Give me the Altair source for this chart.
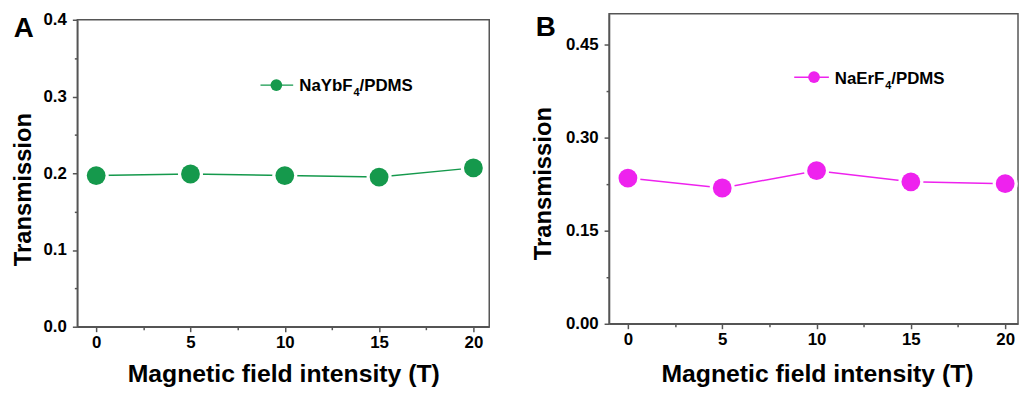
import altair as alt
import pandas as pd

# ---- data ----
field_T = [0, 5, 10, 15, 20]
trans_yb = [0.197, 0.199, 0.197, 0.195, 0.207]
trans_er = [0.235, 0.219, 0.247, 0.229, 0.226]

legend_yb = ["NaYbF", "4", "/PDMS"]
legend_er = ["NaErF", "4", "/PDMS"]
panel_letters = ["A", "B"]

x_ticks = [0, 2.5, 5, 7.5, 10, 12.5, 15, 17.5, 20]
y_ticks_a = [0, 0.05, 0.1, 0.15, 0.2, 0.25, 0.3, 0.35, 0.4]
y_ticks_b = [0, 0.075, 0.15, 0.225, 0.3, 0.375, 0.45]

GREEN = "#15994c"
MAGENTA = "#ee22ee"
AXC = "#555555"
FONT = "Liberation Sans"

df_a = pd.DataFrame({"field": field_T, "trans": trans_yb})
df_b = pd.DataFrame({"field": field_T, "trans": trans_er})


def x_axis(title_pad, title_x=None):
    kw = dict(
        title="Magnetic field intensity (T)",
        values=x_ticks,
        labelExpr="datum.value % 5 === 0 ? format(datum.value, 'd') : ''",
        tickSize={"condition": {"test": "datum.value % 5 === 0", "value": 5}, "value": 3},
        labelPadding=3,
        titlePadding=title_pad,
        titleFontSize=25,
    )
    if title_x is not None:
        kw["titleX"] = title_x
    return alt.Axis(**kw)


def y_axis(values, test, fmt, title_pad, title_y):
    return alt.Axis(
        title="Transmission",
        values=values,
        labelExpr=f"({test}) ? format(datum.value, '{fmt}') : ''",
        tickSize={"condition": {"test": test, "value": 5}, "value": 3},
        labelPadding=6,
        titlePadding=title_pad,
        titleY=title_y,
    )


def one(val):
    return pd.DataFrame({"t": [val]})


def panel(df, color, xdom, ydom, yrange, yax, xax, legend, lg, letter, letter_xy):
    enc = dict(
        x=alt.X("field:Q", scale=alt.Scale(domain=xdom, nice=False, zero=False), axis=xax),
        y=alt.Y("trans:Q", scale=alt.Scale(domain=ydom, range=yrange, nice=False, zero=False), axis=yax),
    )
    base = alt.Chart(df)
    line = base.mark_line(color=color, strokeWidth=1.5).encode(**enc)
    halo = base.mark_circle(color="white", opacity=1, size=640).encode(**enc)
    pts = base.mark_circle(color=color, opacity=1, size=360).encode(**enc)

    lx0, lx1, lcx, ly, tx, tby = lg
    leg_line = alt.Chart(one(0)).mark_rule(color=color, strokeWidth=1.5).encode(
        x=alt.value(lx0), x2=alt.value(lx1), y=alt.value(ly))
    leg_pt = alt.Chart(one(0)).mark_circle(color=color, opacity=1, size=140).encode(
        x=alt.value(lcx), y=alt.value(ly))
    t1 = alt.Chart(one(legend[0])).mark_text(font=FONT, fontWeight="bold", fontSize=17, align="right",
                                              baseline="alphabetic", color="black").encode(
        text="t:N", x=alt.value(tx), y=alt.value(tby))
    t2 = alt.Chart(one(legend[1])).mark_text(font=FONT, fontWeight="bold", fontSize=11, align="left",
                                              baseline="alphabetic", color="black").encode(
        text="t:N", x=alt.value(tx + 1), y=alt.value(tby + 5))
    t3 = alt.Chart(one(legend[2])).mark_text(font=FONT, fontWeight="bold", fontSize=17, align="left",
                                              baseline="alphabetic", color="black").encode(
        text="t:N", x=alt.value(tx + 7), y=alt.value(tby))
    let = alt.Chart(one(letter)).mark_text(font=FONT, fontWeight="bold", fontSize=28, align="center",
                                           baseline="alphabetic", color="black").encode(
        text="t:N", x=alt.value(letter_xy[0]), y=alt.value(letter_xy[1]))
    return [line, halo, pts, leg_line, leg_pt, t1, t2, t3, let]


# Panel A (view top shared with B; frame drawn from the scale range)
WA, HA = 416, 316
layers_a = panel(
    df_a, GREEN, [-1, 20.84], [0, 0.4], [HA, 6],
    y_axis(y_ticks_a, "round(datum.value*100) % 10 === 0", ".1f", 8, 177),
    x_axis(11),
    legend_yb, (185, 218, 201, 72, 278, 78), panel_letters[0], (-54, 23),
)
frame_a = alt.Chart(one(0)).mark_rect(filled=False, stroke=AXC, strokeWidth=1.5).encode(
    x=alt.value(0), x2=alt.value(WA), y=alt.value(6), y2=alt.value(HA))
chart_a = alt.layer(frame_a, *layers_a).properties(
    width=WA, height=HA, view=alt.ViewBackground(stroke="transparent"))

# Panel B
WB, HB = 413, 313
layers_b = panel(
    df_b, MAGENTA, [-1, 20.68], [0, 0.5], [HB, 0],
    y_axis(y_ticks_b, "round(datum.value*1000) % 150 === 0", ".2f", 10, 171),
    x_axis(14, 210),
    legend_er, (187, 222, 207, 64, 278, 71), panel_letters[1], (-64, 22),
)
chart_b = alt.layer(*layers_b).properties(width=WB, height=HB)

chart = alt.hconcat(chart_a, chart_b, spacing=40).properties(
    padding={"left": 2, "top": 0, "right": 0, "bottom": 0}
).configure_view(stroke=AXC, strokeWidth=1.5).configure_axis(
    grid=False,
    domainColor=AXC, domainWidth=1.5,
    tickColor=AXC, tickWidth=1.5,
    labelFont=FONT, labelFontWeight="bold", labelFontSize=17, labelColor="black",
    titleFont=FONT, titleFontWeight="bold", titleFontSize=24, titleColor="black",
)

chart.save("out.html", embed_options={"renderer": "svg", "actions": False})
